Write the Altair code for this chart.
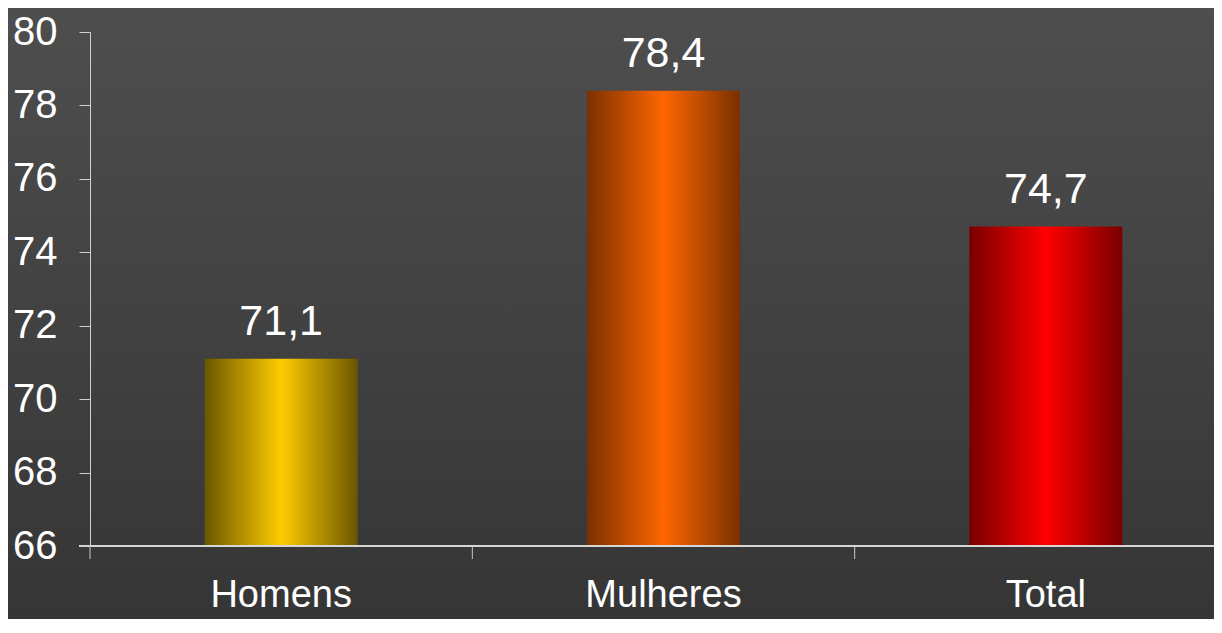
import altair as alt
import pandas as pd

categories = ["Homens", "Mulheres", "Total"]
values = [71.1, 78.4, 74.7]
y_ticks = [66, 68, 70, 72, 74, 76, 78, 80]
edge_colors = ["#6b5600", "#7a3000", "#780000"]
mid_colors = ["#ffcc00", "#ff6600", "#ff0000"]

W, H = 1124, 514
LEFT, TOP, BOTTOM = 82, 24, 73
FONT = "'Liberation Sans', Arial, sans-serif"

df = pd.DataFrame({"cat": categories, "v": values})

xscale = alt.Scale(domain=categories, range=[0, 1147], paddingInner=0, paddingOuter=0)
yscale = alt.Scale(domain=[66, 80], nice=False, zero=False)

bg = alt.Chart(pd.DataFrame({"a": [0]})).mark_rect(
    color=alt.Gradient(
        gradient="linear", x1=0, x2=0, y1=0, y2=1,
        stops=[alt.GradientStop(offset=0, color="#4e4e4e"),
               alt.GradientStop(offset=1, color="#353535")],
    ),
    clip=False,
).encode(
    x=alt.value(-LEFT), x2=alt.value(W + 20), y=alt.value(-TOP), y2=alt.value(H + BOTTOM + 10)
)

base = alt.Chart(df)

bars = []
for i, c in enumerate(categories):
    grad = alt.Gradient(
        gradient="linear", x1=0, x2=1, y1=0, y2=0,
        stops=[alt.GradientStop(offset=0, color=edge_colors[i]),
               alt.GradientStop(offset=0.5, color=mid_colors[i]),
               alt.GradientStop(offset=1, color=edge_colors[i])],
    )
    b = base.transform_filter(alt.datum.cat == c).mark_bar(
        color=grad, width=alt.RelativeBandSize(0.4)
    ).encode(
        x=alt.X("cat:N", scale=xscale, sort=categories,
                axis=alt.Axis(title=None, domain=False, ticks=False, tickSize=0,
                              labelAngle=0, labelFontSize=38, labelFont=FONT,
                              labelColor="#ffffff", labelPadding=30, zindex=2)),
        y=alt.Y("v:Q", scale=yscale,
                axis=alt.Axis(title=None, values=y_ticks, grid=False, tickSize=11,
                              tickColor="#d0d0d0", domainColor="#d0d0d0",
                              labelFontSize=40, labelFont=FONT, labelColor="#ffffff",
                              labelPadding=22, zindex=2)),
        y2=alt.datum(66),
    )
    bars.append(b)

labels = base.transform_calculate(
    lbl="replace(format(datum.v, '.1f'), '.', ',')"
).mark_text(fontSize=43, font=FONT, color="#ffffff", baseline="alphabetic", dy=-24).encode(
    x=alt.X("cat:N", scale=xscale, sort=categories),
    y=alt.Y("v:Q", scale=yscale),
    text="lbl:N",
)

xline = base.mark_rule(color="#d8d8d8", strokeWidth=1.5).encode(
    x=alt.value(-11), x2=alt.value(W + 20), y=alt.value(H)
)

xticks = base.mark_rule(color="#c8c8c8", strokeWidth=1).encode(
    x=alt.X("cat:N", scale=xscale, sort=categories, bandPosition=0),
    y=alt.value(H), y2=alt.value(H + 13),
)

chart = alt.layer(bg, *bars, labels, xline, xticks).properties(
    width=W, height=H,
    padding={"left": LEFT, "top": TOP, "right": 0, "bottom": BOTTOM},
    autosize=alt.AutoSizeParams(type="none"),
    background="#363636",
).configure_view(stroke=None)

chart.save("out.html", embed_options={"renderer": "svg", "actions": False})
